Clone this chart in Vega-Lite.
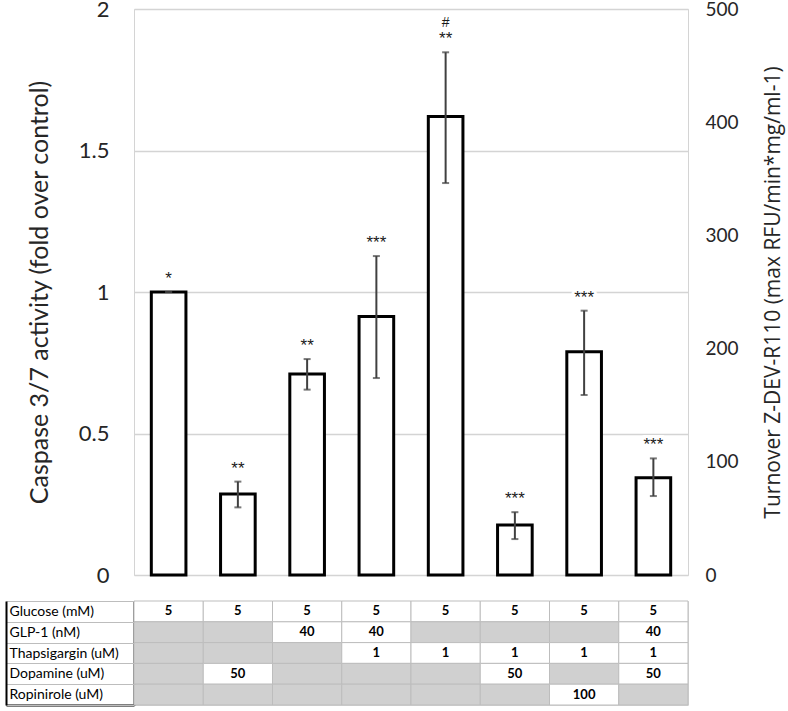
{
  "$schema": "https://vega.github.io/schema/vega-lite/v6.json",
  "padding": {"left": 4, "top": -3, "right": 5, "bottom": 0},
  "background": "white",
  "config": {"font": "Lato", "view": {"stroke": "#d4d4d4"}},
  "datasets": {
    "bars": [
      {"condition": 1, "value": 1.0, "lo": 1.0, "hi": 1.0, "sig": "*", "sig2": ""},
      {"condition": 2, "value": 0.286, "lo": 0.239, "hi": 0.33, "sig": "**", "sig2": ""},
      {"condition": 3, "value": 0.71, "lo": 0.655, "hi": 0.763, "sig": "**", "sig2": ""},
      {"condition": 4, "value": 0.913, "lo": 0.696, "hi": 1.127, "sig": "***", "sig2": ""},
      {"condition": 5, "value": 1.62, "lo": 1.385, "hi": 1.847, "sig": "**", "sig2": "#"},
      {"condition": 6, "value": 0.177, "lo": 0.127, "hi": 0.222, "sig": "***", "sig2": ""},
      {"condition": 7, "value": 0.789, "lo": 0.636, "hi": 0.934, "sig": "***", "sig2": ""},
      {"condition": 8, "value": 0.344, "lo": 0.279, "hi": 0.412, "sig": "***", "sig2": ""}
    ],
    "table": [
      {"row": "Glucose (mM)", "condition": 1, "val": "5"},
      {"row": "Glucose (mM)", "condition": 2, "val": "5"},
      {"row": "Glucose (mM)", "condition": 3, "val": "5"},
      {"row": "Glucose (mM)", "condition": 4, "val": "5"},
      {"row": "Glucose (mM)", "condition": 5, "val": "5"},
      {"row": "Glucose (mM)", "condition": 6, "val": "5"},
      {"row": "Glucose (mM)", "condition": 7, "val": "5"},
      {"row": "Glucose (mM)", "condition": 8, "val": "5"},
      {"row": "GLP-1 (nM)", "condition": 1, "val": ""},
      {"row": "GLP-1 (nM)", "condition": 2, "val": ""},
      {"row": "GLP-1 (nM)", "condition": 3, "val": "40"},
      {"row": "GLP-1 (nM)", "condition": 4, "val": "40"},
      {"row": "GLP-1 (nM)", "condition": 5, "val": ""},
      {"row": "GLP-1 (nM)", "condition": 6, "val": ""},
      {"row": "GLP-1 (nM)", "condition": 7, "val": ""},
      {"row": "GLP-1 (nM)", "condition": 8, "val": "40"},
      {"row": "Thapsigargin (uM)", "condition": 1, "val": ""},
      {"row": "Thapsigargin (uM)", "condition": 2, "val": ""},
      {"row": "Thapsigargin (uM)", "condition": 3, "val": ""},
      {"row": "Thapsigargin (uM)", "condition": 4, "val": "1"},
      {"row": "Thapsigargin (uM)", "condition": 5, "val": "1"},
      {"row": "Thapsigargin (uM)", "condition": 6, "val": "1"},
      {"row": "Thapsigargin (uM)", "condition": 7, "val": "1"},
      {"row": "Thapsigargin (uM)", "condition": 8, "val": "1"},
      {"row": "Dopamine (uM)", "condition": 1, "val": ""},
      {"row": "Dopamine (uM)", "condition": 2, "val": "50"},
      {"row": "Dopamine (uM)", "condition": 3, "val": ""},
      {"row": "Dopamine (uM)", "condition": 4, "val": ""},
      {"row": "Dopamine (uM)", "condition": 5, "val": ""},
      {"row": "Dopamine (uM)", "condition": 6, "val": "50"},
      {"row": "Dopamine (uM)", "condition": 7, "val": ""},
      {"row": "Dopamine (uM)", "condition": 8, "val": "50"},
      {"row": "Ropinirole (uM)", "condition": 1, "val": ""},
      {"row": "Ropinirole (uM)", "condition": 2, "val": ""},
      {"row": "Ropinirole (uM)", "condition": 3, "val": ""},
      {"row": "Ropinirole (uM)", "condition": 4, "val": ""},
      {"row": "Ropinirole (uM)", "condition": 5, "val": ""},
      {"row": "Ropinirole (uM)", "condition": 6, "val": ""},
      {"row": "Ropinirole (uM)", "condition": 7, "val": "100"},
      {"row": "Ropinirole (uM)", "condition": 8, "val": ""}
    ]
  },
  "vconcat": [
    {
      "width": 554,
      "height": 566,
      "data": {"name": "bars"},
      "layer": [
        {
          "mark": {"type": "bar", "fill": "white", "stroke": "black", "strokeWidth": 3, "strokeJoin": "miter"},
          "encoding": {
            "x": {"field": "condition", "type": "ordinal", "axis": null, "scale": {"paddingInner": 0.5, "paddingOuter": 0.25}},
            "y": {
              "field": "value", "type": "quantitative", "scale": {"domain": [0, 2], "nice": false},
              "axis": {
                "orient": "left",
                "values": [0, 0.5, 1, 1.5, 2], "format": "~g",
                "domain": false, "ticks": false, "grid": true, "gridColor": "#d4d4d4", "gridWidth": 1.3,
                "labelFontSize": 22, "labelColor": "#262626", "labelPadding": 25,
                "title": "Caspase 3/7 activity (fold over control)", "titleFontSize": 25,
                "titleFontWeight": "normal", "titleColor": "#262626", "titlePadding": 26
              }
            }
          }
        },
        {
          "mark": {"type": "point", "opacity": 0},
          "encoding": {
            "x": {"field": "condition", "type": "ordinal", "axis": null, "scale": {"paddingInner": 0.5, "paddingOuter": 0.25}},
            "y": {
              "field": "value", "type": "quantitative", "scale": {"domain": [0, 500], "nice": false},
              "axis": {
                "orient": "right", "values": [0, 100, 200, 300, 400, 500],
                "domain": false, "ticks": false, "grid": false,
                "labelFontSize": 19, "labelColor": "#262626", "labelPadding": 17,
                "title": "Turnover Z-DEV-R110 (max RFU/min*mg/ml-1)", "titleFont": "Open Sans", "titleFontSize": 21,
                "titleFontWeight": "normal", "titleColor": "#262626", "titlePadding": 24,
                "titleAngle": 270, "titleBaseline": "top"
              }
            }
          }
        },
        {
          "layer": [
            {
              "mark": {"type": "rule", "color": "#404040", "strokeWidth": 2},
              "encoding": {
                "x": {"field": "condition", "type": "ordinal", "axis": null, "scale": {"paddingInner": 0.5, "paddingOuter": 0.25}},
                "y": {"field": "lo", "type": "quantitative", "scale": {"domain": [0, 2], "nice": false}, "axis": null},
                "y2": {"field": "hi"}
              }
            },
            {
              "mark": {"type": "tick", "color": "#404040", "thickness": 2, "size": 7},
              "encoding": {
                "x": {"field": "condition", "type": "ordinal", "axis": null, "scale": {"paddingInner": 0.5, "paddingOuter": 0.25}},
                "y": {"field": "lo", "type": "quantitative", "scale": {"domain": [0, 2], "nice": false}, "axis": null}
              }
            },
            {
              "mark": {"type": "tick", "color": "#404040", "thickness": 2, "size": 7},
              "encoding": {
                "x": {"field": "condition", "type": "ordinal", "axis": null, "scale": {"paddingInner": 0.5, "paddingOuter": 0.25}},
                "y": {"field": "hi", "type": "quantitative", "scale": {"domain": [0, 2], "nice": false}, "axis": null}
              }
            },
            {
              "mark": {"type": "text", "font": "Liberation Sans", "fontSize": 17, "baseline": "bottom", "dy": -4, "fill": "white", "stroke": "white", "strokeWidth": 6},
              "encoding": {
                "x": {"field": "condition", "type": "ordinal", "axis": null, "scale": {"paddingInner": 0.5, "paddingOuter": 0.25}},
                "y": {"field": "hi", "type": "quantitative", "scale": {"domain": [0, 2], "nice": false}, "axis": null},
                "text": {"field": "sig"}
              }
            },
            {
              "mark": {"type": "text", "font": "Liberation Sans", "fontSize": 17, "baseline": "bottom", "dy": -4, "color": "#1a1a1a"},
              "encoding": {
                "x": {"field": "condition", "type": "ordinal", "axis": null, "scale": {"paddingInner": 0.5, "paddingOuter": 0.25}},
                "y": {"field": "hi", "type": "quantitative", "scale": {"domain": [0, 2], "nice": false}, "axis": null},
                "text": {"field": "sig"}
              }
            },
            {
              "mark": {"type": "text", "font": "Liberation Sans", "fontSize": 14, "baseline": "bottom", "dy": -22, "color": "#1a1a1a"},
              "encoding": {
                "x": {"field": "condition", "type": "ordinal", "axis": null, "scale": {"paddingInner": 0.5, "paddingOuter": 0.25}},
                "y": {"field": "hi", "type": "quantitative", "scale": {"domain": [0, 2], "nice": false}, "axis": null},
                "text": {"field": "sig2"}
              }
            }
          ]
        }
      ],
      "resolve": {"scale": {"y": "independent"}, "axis": {"y": "independent"}}
    },
    {
      "width": 554,
      "height": 104,
      "data": {"name": "table"},
      "layer": [
        {
          "mark": {"type": "rect", "stroke": "#bdbdbd", "strokeWidth": 1},
          "encoding": {
            "x": {"field": "condition", "type": "ordinal", "axis": null, "scale": {"paddingInner": 0, "paddingOuter": 0}},
            "y": {
              "field": "row", "type": "nominal",
              "sort": ["Glucose (mM)", "GLP-1 (nM)", "Thapsigargin (uM)", "Dopamine (uM)", "Ropinirole (uM)"],
              "scale": {"paddingInner": 0, "paddingOuter": 0},
              "axis": {
                "orient": "left", "offset": 128, "title": null,
                "domain": true, "domainColor": "black", "domainWidth": 2,
                "ticks": true, "tickBand": "extent", "tickSize": -128, "tickColor": "#bdbdbd", "tickWidth": 1,
                "labelAlign": "left", "labelBaseline": "middle", "labelPadding": 125,
                "labelFontSize": 14, "labelColor": "black", "labelLimit": 200
              }
            },
            "fill": {"condition": {"test": "datum.val === ''", "value": "#d0d0d0"}, "value": "white"}
          }
        },
        {
          "mark": {"type": "text", "fontWeight": "bold", "fontSize": 13, "color": "black"},
          "encoding": {
            "x": {"field": "condition", "type": "ordinal", "axis": null, "scale": {"paddingInner": 0, "paddingOuter": 0}},
            "y": {
              "field": "row", "type": "nominal",
              "sort": ["Glucose (mM)", "GLP-1 (nM)", "Thapsigargin (uM)", "Dopamine (uM)", "Ropinirole (uM)"],
              "scale": {"paddingInner": 0, "paddingOuter": 0},
              "axis": {
                "orient": "left", "offset": 0, "title": null, "labels": false,
                "domain": true, "domainColor": "black", "domainWidth": 2,
                "ticks": true, "bandPosition": 1, "tickSize": 128, "tickWidth": 2,
                "tickColor": {"condition": {"test": "datum.value === 'Ropinirole (uM)'", "value": "black"}, "value": "transparent"},
                "grid": false
              }
            },
            "text": {"field": "val"}
          }
        }
      ],
      "resolve": {"axis": {"y": "independent"}}
    }
  ],
  "spacing": 26,
  "bounds": "flush"
}
